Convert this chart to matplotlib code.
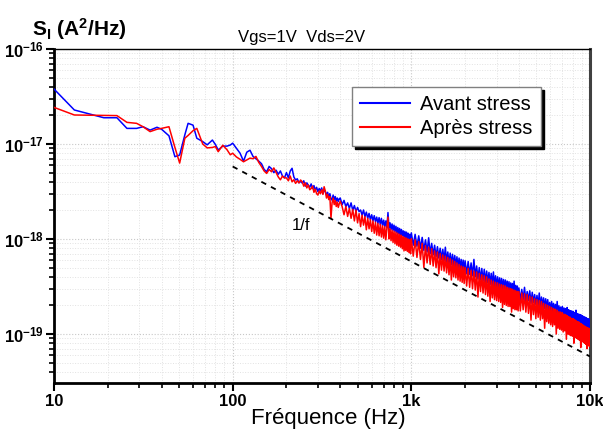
import matplotlib
matplotlib.use("Agg")
import matplotlib.pyplot as plt
from matplotlib.ticker import FixedLocator, FixedFormatter, LogLocator, NullFormatter

plt.rcParams['font.family'] = ['Liberation Sans', 'DejaVu Sans']
plt.rcParams['mathtext.fontset'] = 'custom'
plt.rcParams['mathtext.rm'] = 'Liberation Sans'
plt.rcParams['mathtext.bf'] = 'Liberation Sans:bold'
plt.rcParams['mathtext.it'] = 'Liberation Sans:italic'

# frequency bins (Hz)
freq_hz = [
    10, 13, 19, 22.5, 25.6, 29, 31.5, 34.5, 37.7, 40, 44, 47.5, 50.5, 54, 56.3,
    60, 63, 68, 72, 77, 80, 83, 88, 93, 97,
    100, 105, 110, 115, 120, 125, 130, 135, 140, 145, 150, 155, 160, 165, 170,
    175, 180, 185, 190, 195,
    200, 205, 210, 215, 220, 225, 230, 235, 240, 245, 250, 255, 260, 265, 270,
    275, 280, 285, 290, 295, 300, 305, 310, 315, 320, 325, 330, 335, 340, 345,
    350, 355, 360, 365, 370, 375, 380, 385, 390, 395,
    400, 410, 420, 430, 440, 450, 460, 470, 480, 490, 500, 510, 520, 530, 540,
    550, 560, 570, 580, 590, 600, 610, 620, 630, 640, 650, 660, 670, 680, 690,
    700, 710, 720, 730, 740, 750, 760, 770, 780, 790, 800, 810, 820, 830, 840,
    850, 860, 870, 880, 890, 900, 910, 920, 930, 940, 950, 960, 970, 980, 990,
    1000, 1025, 1050, 1075, 1100, 1125, 1150, 1175, 1200, 1225, 1250, 1275,
    1300, 1325, 1350, 1375, 1400, 1425, 1450, 1475, 1500, 1525, 1550, 1575,
    1600, 1625, 1650, 1675, 1700, 1725, 1750, 1775, 1800, 1825, 1850, 1875,
    1900, 1925, 1950, 1975,
    2000, 2040, 2080, 2120, 2160, 2200, 2240, 2280, 2320, 2360, 2400, 2440,
    2480, 2520, 2560, 2600, 2640, 2680, 2720, 2760, 2800, 2840, 2880, 2920,
    2960, 3000, 3040, 3080, 3120, 3160, 3200, 3240, 3280, 3320, 3360, 3400,
    3440, 3480, 3520, 3560, 3600, 3640, 3680, 3720, 3760, 3800, 3840, 3880,
    3920, 3960,
    4000, 4075, 4150, 4225, 4300, 4375, 4450, 4525, 4600, 4675, 4750, 4825,
    4900, 4975, 5050, 5125, 5200, 5275, 5350, 5425, 5500, 5575, 5650, 5725,
    5800, 5875, 5950, 6025, 6100, 6175, 6250, 6325, 6400, 6475, 6550, 6625,
    6700, 6775, 6850, 6925, 7000, 7075, 7150, 7225, 7300, 7375, 7450, 7525,
    7600, 7675, 7750, 7825, 7900, 7975, 8050, 8125, 8200, 8275, 8350, 8425,
    8500, 8575, 8650, 8725, 8800, 8875, 8950, 9025, 9100, 9175, 9250, 9325,
    9400, 9475, 9550, 9625, 9700, 9775, 9850, 9925, 10000,
]

# S_I, in units of 1e-19 A^2/Hz
avant_stress = [
    379, 228, 189, 189, 146, 146, 152, 140, 150, 143, 122, 73.5, 76.6, 125, 165,
    158, 115, 106, 98, 110, 99, 86.5, 95, 95, 97.6,
    102, 90, 80, 66, 82, 86, 74, 70, 66, 62, 54, 51, 58, 55, 50, 53, 48, 52, 46, 44,
    50, 44, 52, 55.5, 45, 41.8, 43, 39, 40.5, 38.8, 41, 36, 39, 37, 35,
    38, 34, 36.5, 32.8, 35, 31.5, 34, 32, 34.5, 30, 33, 31.5, 29, 31, 27.5,
    30, 26.5, 25.7, 29, 26, 28, 25, 27, 24.8, 26.5,
    27, 23, 25.5, 21.9, 24, 21, 24, 20, 22.5, 19.5, 21.5, 19.4, 20.2, 17.8, 20.2,
    17.2, 19.2, 16.5, 18.6, 16, 18, 15.5, 17.6, 15.2, 17, 14.6, 16.8, 14.2, 16.5,
    13.8, 15.8, 13.5, 15.5, 13.2, 19, 13, 14.8, 12.6, 14.4, 12.3, 14, 12, 13.6,
    11.6, 13.2, 11.3, 12.9, 11, 12.6, 10.8, 12.2, 10.5, 12, 10.2, 11.8, 10, 11.5,
    9.7, 11.2, 9.5,
    11.6, 8.6, 11.2, 8.4, 10.8, 8.0, 10.4, 7.6, 9.8, 7.3, 10.3, 7.0, 9.0, 6.8,
    8.6, 6.5, 8.3, 6.3, 8.0, 6.1, 7.8, 5.9, 8.2, 5.7, 7.3, 5.5, 7.1, 5.35, 6.9,
    5.2, 6.7, 5.05, 6.5, 4.9, 6.3, 4.8, 6.1, 4.65, 6.0, 4.55,
    5.9, 4.3, 5.8, 4.25, 5.6, 4.1, 6.1, 4.0, 5.2, 3.8, 5.0, 3.7, 4.9, 3.6, 4.8,
    3.5, 4.6, 3.45, 4.45, 3.3, 4.35, 3.2, 4.5, 3.1, 4.1, 3.05, 4.0, 3.0, 3.9,
    2.9, 3.85, 2.85, 3.75, 2.8, 3.7, 2.75, 3.6, 2.7, 3.55, 2.6, 3.45, 2.55, 3.4,
    2.5, 3.6, 2.45, 3.25, 2.4, 3.2, 2.35,
    3.05, 2.25, 2.95, 2.3, 3.1, 2.2, 2.8, 2.25, 2.85, 2.1, 2.75, 2.15, 2.6, 2.05,
    2.55, 1.95, 2.7, 1.9, 2.45, 1.95, 2.4, 1.85, 2.35, 1.8, 2.3, 1.75, 2.15, 1.65,
    2.2, 1.7, 2.1, 1.62, 2.05, 1.6, 2.2, 1.55, 1.98, 1.55, 1.92, 1.5, 1.95, 1.45,
    1.88, 1.46, 1.85, 1.42, 1.9, 1.4, 1.8, 1.38, 1.76, 1.36, 1.75, 1.33, 1.72,
    1.3, 1.68, 1.3, 1.78, 1.27, 1.64, 1.25, 1.62, 1.22, 1.6, 1.2, 1.58, 1.2,
    1.55, 1.17, 1.52, 1.15, 1.5, 1.13, 1.48, 1.12, 1.45, 1.1, 1.44, 1.1, 1.42,
]

apres_stress = [
    243, 202, 200, 199, 169, 165, 152, 135, 143, 146, 152, 92, 63, 115, 123,
    138, 146, 100, 91, 92, 94, 83, 97, 87, 77,
    80, 73, 69, 65, 68, 71, 70, 74, 64, 58, 52, 49, 54, 51, 56, 50, 45, 42, 46, 44,
    44, 41, 46, 40, 42, 38.5, 41, 39, 41.8, 40, 36, 39, 34.5, 37, 33,
    34, 36, 31, 33.5, 30, 29, 32, 30, 33, 29.5, 35.5, 32, 27, 29.5, 26,
    28, 16.5, 24, 27, 23, 25.5, 22, 24.5, 21.5, 23.5,
    25, 21.9, 18, 22, 17.3, 21, 16.5, 20.5, 15.5, 20.2, 14.8, 18.5, 13.5, 17.8,
    14, 17.2, 12.5, 16.5, 12.8, 16, 12, 15.5, 11.5, 15, 11, 14.6, 10.8, 14.2,
    10.5, 13.8, 10.2, 13.5, 9.8, 13.2, 17, 10, 12.8, 9.6, 12.4, 9.2, 12.1, 8.9,
    11.8, 8.6, 11.5, 8.4, 11.2, 8.2, 10.9, 7.9, 10.6, 7.5, 10.4, 7.6, 10.2, 7.4,
    10, 7.2, 9.8, 7.0,
    10.1, 6.6, 9.8, 6.4, 9.4, 6.1, 9.0, 5.0, 8.5, 5.6, 8.2, 5.4, 7.9, 5.2, 7.5,
    5.0, 7.3, 4.3, 7.0, 4.7, 6.8, 4.6, 6.6, 4.4, 6.4, 4.2, 6.2, 3.7, 6.0, 4.0,
    5.8, 3.9, 5.6, 3.7, 5.4, 3.6, 5.2, 3.5, 5.1, 3.4,
    5.0, 3.2, 4.9, 3.1, 4.7, 3.0, 4.6, 2.9, 4.5, 2.45, 4.35, 2.8, 4.2, 2.7, 4.1,
    2.6, 4.0, 2.5, 3.8, 2.2, 3.7, 2.4, 3.6, 2.3, 3.5, 2.25, 3.45, 2.2, 3.35, 2.15,
    3.3, 1.9, 3.25, 2.05, 3.2, 2.0, 3.1, 1.95, 3.05, 1.95, 3.0, 1.7, 2.95, 1.85,
    2.9, 1.8, 2.85, 1.8, 2.8, 1.75,
    2.8, 1.75, 2.7, 1.8, 2.65, 1.7, 2.6, 1.65, 2.5, 1.4, 2.45, 1.6, 2.35, 1.45,
    2.3, 1.5, 2.25, 1.4, 2.2, 1.45, 2.1, 1.15, 2.05, 1.35, 2.0, 1.3, 1.95, 1.25,
    1.9, 1.2, 1.85, 1.25, 1.82, 1.0, 1.78, 1.15, 1.72, 1.12, 1.7, 1.1, 1.68, 1.05,
    1.62, 1.08, 1.6, 0.88, 1.56, 1.0, 1.52, 0.98, 1.5, 0.96, 1.46, 0.95, 1.45,
    0.8, 1.42, 0.92, 1.38, 0.9, 1.35, 0.88, 1.34, 0.86, 1.3, 0.72, 1.28, 0.84,
    1.25, 0.82, 1.22, 0.8, 1.2, 0.78, 1.18, 0.7, 1.16, 0.76, 1.15, 0.74, 1.1,
]

# 1/f guide line
ref_f = [100, 10000]
ref_s = [5.8e-18, 5.8e-20]

x_ticks = [10, 100, 1000, 10000]
x_labels = ['10', '100', '1k', '10k']
y_ticks = [1e-19, 1e-18, 1e-17, 1e-16]
y_labels = [r'$\mathbf{10^{-19}}$', r'$\mathbf{10^{-18}}$',
            r'$\mathbf{10^{-17}}$', r'$\mathbf{10^{-16}}$']

unit = 1e-19
s_avant = [v * unit for v in avant_stress]
s_apres = [v * unit for v in apres_stress]

fig = plt.figure(figsize=(6.03, 4.32), dpi=100)
ax = fig.add_axes([54 / 603, 1 - 383 / 432, 536 / 603, 334 / 432])

ax.plot(freq_hz, s_avant, color='#0000ff', lw=1.1, label='Avant stress', zorder=3)
ax.plot(freq_hz, s_apres, color='#ff0000', lw=1.1, label='Après stress', zorder=4)
ax.plot(ref_f, ref_s, color='black', lw=1.3, ls=(0, (3, 3)), zorder=5)

ax.set_xscale('log')
ax.set_yscale('log')
ax.set_xlim(10, 10000)
ax.set_ylim(3.05e-20, 1e-16)

ax.xaxis.set_major_locator(FixedLocator(x_ticks))
ax.xaxis.set_major_formatter(FixedFormatter(x_labels))
ax.xaxis.set_minor_locator(LogLocator(base=10, subs=range(2, 10)))
ax.xaxis.set_minor_formatter(NullFormatter())
ax.yaxis.set_major_locator(FixedLocator(y_ticks))
ax.yaxis.set_major_formatter(FixedFormatter(y_labels))
ax.yaxis.set_minor_locator(LogLocator(base=10, subs=range(2, 10)))
ax.yaxis.set_minor_formatter(NullFormatter())

ax.grid(which='major', color='#c8c8c8', ls=':', lw=0.8)
ax.grid(which='minor', color='#e2e2e2', ls=':', lw=0.7)
ax.set_axisbelow(True)

ax.tick_params(which='major', direction='out', length=6, width=1.5, labelsize=12)
ax.tick_params(which='minor', direction='out', length=3.5, width=1.2)
ax.tick_params(axis='x', pad=2)
ax.tick_params(axis='y', pad=1)
for lab in ax.get_xticklabels():
    lab.set_fontweight('bold')

for side in ['left', 'bottom']:
    ax.spines[side].set_linewidth(2)
ax.spines['top'].set_linewidth(1.0)
ax.spines['right'].set_linewidth(2.2)
ax.spines['right'].set_color('#404040')

fig.text(328 / 603, 1 - 424 / 432, 'Fréquence (Hz)', fontsize=16,
         ha='center', va='baseline')
fig.text(32 / 603, 1 - 36 / 432, r'$\mathbf{S_I\ (A^2/Hz)}$', fontsize=15,
         ha='left', va='baseline')
fig.text(302 / 603, 1 - 42 / 432, 'Vgs=1V  Vds=2V', fontsize=12,
         ha='center', va='baseline')
ax.text(240, 1.38e-18, '1/f', fontsize=12, ha='center', va='center')

leg = ax.legend(loc='upper left', bbox_to_anchor=(0.556, 0.886), fontsize=14.5,
                frameon=True, fancybox=False, handlelength=2.5,
                borderpad=0.4, labelspacing=0.25, handletextpad=0.5,
                borderaxespad=0, shadow={'color': 'black', 'alpha': 1})
leg.get_frame().set_edgecolor('#808080')
leg.get_frame().set_linewidth(1.0)
for line in leg.get_lines():
    line.set_linewidth(1.5)

fig.savefig('out.png', dpi=100)
